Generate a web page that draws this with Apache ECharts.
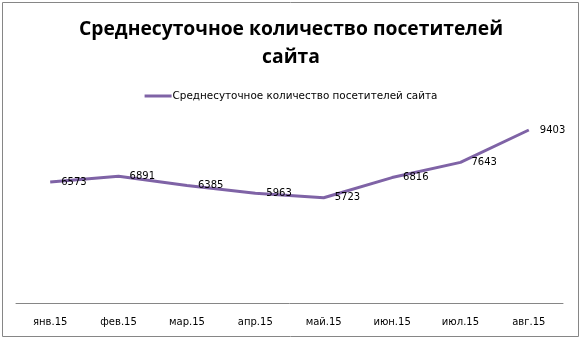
<!DOCTYPE html>
<html><head><meta charset="utf-8">
<script src="https://cdn.jsdelivr.net/npm/echarts@6/dist/echarts.min.js"></script>
<style>html,body{margin:0;padding:0;background:#fff}#c{width:582px;height:340px}</style>
</head><body><div id="c"></div>
<script>
const categories = ['янв.15','фев.15','мар.15','апр.15','май.15','июн.15','июл.15','авг.15'];
const visitors = [6573, 6891, 6385, 5963, 5723, 6816, 7643, 9403];
const seriesName = 'Среднесуточное количество посетителей сайта';
const titleText = 'Среднесуточное количество посетителей\nсайта';

const chart = echarts.init(document.getElementById('c'), null, {renderer:'canvas'});
chart.setOption({
  animation:false,
  backgroundColor:'#fff',
  graphic:[{type:'rect', shape:{x:2.5,y:2.5,width:576,height:334}, style:{fill:'none', stroke:'#868686', lineWidth:1}, silent:true}],
  title:{text:titleText, left:'center', top:11,
    textStyle:{fontFamily:'Open Sans', fontWeight:'bold', fontSize:19.3, color:'#000', lineHeight:28}},
  legend:{top:86, left:'center', itemWidth:27, itemHeight:3, itemGap:0,
    icon:'rect',
    textStyle:{fontFamily:'DejaVu Sans', fontSize:10.4, color:'#000', padding:[0,0,0,-4]},
    data:[{name:seriesName}]},
  grid:{left:16, right:19, top:119, bottom:37, containLabel:false},
  xAxis:{type:'category', data:categories, boundaryGap:true,
    axisLine:{lineStyle:{color:'#868686', width:1}},
    axisTick:{show:false},
    axisLabel:{fontFamily:'DejaVu Sans', fontSize:10, color:'#000', margin:14}},
  yAxis:{type:'value', min:0, max:10000, interval:2000, show:false, splitLine:{show:false}},
  series:[{name:seriesName, type:'line', data:visitors, symbol:'circle', symbolSize:0, showSymbol:true,
    lineStyle:{color:'#7F63A6', width:3}, itemStyle:{color:'#7F63A6'},
    label:{show:true, position:'right', distance:11, fontFamily:'DejaVu Sans', fontSize:10, color:'#000'}}]
});
</script></body></html>
